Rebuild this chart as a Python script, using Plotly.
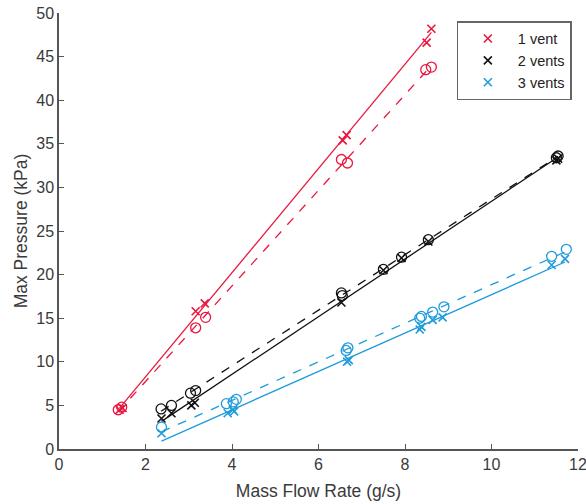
import numpy as np
import plotly.graph_objects as go

# ---- data ----
v1_x_cross = [1.40, 1.47, 3.16, 3.37, 6.56, 6.65, 8.50, 8.61]
v1_y_cross = [4.5, 4.7, 15.8, 16.7, 35.4, 36.0, 46.6, 48.2]
v1_x_circ = [1.37, 1.45, 3.16, 3.39, 6.53, 6.67, 8.48, 8.61]
v1_y_circ = [4.5, 4.8, 13.9, 15.1, 33.2, 32.8, 43.5, 43.8]

v2_x_cross = [2.37, 2.60, 3.06, 3.14, 6.53, 7.50, 7.92, 8.54, 11.50, 11.54]
v2_y_cross = [3.5, 4.1, 5.0, 5.3, 16.8, 20.5, 21.9, 23.8, 33.1, 33.3]
v2_x_circ = [2.36, 2.60, 3.04, 3.16, 6.53, 6.55, 7.50, 7.92, 8.54, 11.50, 11.54]
v2_y_circ = [4.6, 5.0, 6.4, 6.7, 17.9, 17.6, 20.6, 22.0, 24.0, 33.4, 33.6]

v3_x_cross = [2.37, 3.90, 4.02, 4.05, 6.66, 6.70, 8.34, 8.38, 8.64, 8.87, 11.39, 11.70]
v3_y_cross = [1.8, 4.1, 4.5, 4.3, 10.0, 10.2, 13.7, 14.0, 14.8, 15.1, 21.1, 21.8]
v3_x_circ = [2.37, 3.87, 4.03, 4.10, 6.64, 6.68, 8.34, 8.38, 8.64, 8.90, 11.39, 11.73]
v3_y_circ = [2.5, 5.2, 5.4, 5.7, 11.3, 11.6, 15.0, 15.2, 15.7, 16.3, 22.1, 22.9]

series = [
    ("1 vent", "#E8173E", v1_x_cross, v1_y_cross, v1_x_circ, v1_y_circ),
    ("2 vents", "#111111", v2_x_cross, v2_y_cross, v2_x_circ, v2_y_circ),
    ("3 vents", "#1E9BDC", v3_x_cross, v3_y_cross, v3_x_circ, v3_y_circ),
]

x_ticks = [0, 2, 4, 6, 8, 10, 12]
y_ticks = [0, 5, 10, 15, 20, 25, 30, 35, 40, 45, 50]

FONT = "Liberation Sans, Arial"

fig = go.Figure()

for name, color, xc, yc, xo, yo in series:
    # least-squares fit lines (solid: crosses, dashed: circles)
    for xs, ys, dash in ((xc, yc, "solid"), (xo, yo, "dash")):
        p = np.polyfit(xs, ys, 1)
        xl = np.array([min(xs), max(xs)])
        fig.add_trace(go.Scatter(x=xl, y=np.polyval(p, xl), mode="lines",
                                 line=dict(color=color, width=1.3, dash=dash),
                                 showlegend=False, hoverinfo="skip"))
    fig.add_trace(go.Scatter(x=xo, y=yo, mode="markers", showlegend=False,
                             marker=dict(symbol="circle-open", size=10, color=color,
                                         line=dict(width=1.3, color=color))))
    fig.add_trace(go.Scatter(x=xc, y=yc, mode="markers", name=name,
                             marker=dict(symbol="x-thin-open", size=8, color=color,
                                         line=dict(width=1.6, color=color))))

axis_common = dict(showgrid=False, zeroline=False, showline=True, linecolor="#555555",
                   linewidth=1.5, ticks="inside", ticklen=5, tickcolor="#555555",
                   tickfont=dict(family=FONT, size=16, color="#3a3a3a"),
                   mirror=False, automargin=False)

fig.update_xaxes(range=[0, 12], tickvals=x_ticks, ticklabeloverflow="allow",
                 title=dict(text="Mass Flow Rate (g/s)", standoff=13,
                            font=dict(family=FONT, size=17.5, color="#3a3a3a")),
                 **axis_common)
fig.update_yaxes(range=[0, 50], tickvals=y_ticks,
                 title=dict(text="Max Pressure (kPa)", standoff=4,
                            font=dict(family=FONT, size=17.5, color="#3a3a3a")),
                 **axis_common)

fig.update_layout(
    width=586, height=504,
    margin=dict(l=59, r=8, t=13, b=55),
    plot_bgcolor="white", paper_bgcolor="white",
    legend=dict(x=0.766, y=0.981, xanchor="left", yanchor="top",
                bordercolor="#666666", borderwidth=1.3, bgcolor="white",
                font=dict(family=FONT, size=14.5, color="#222222"),
                itemwidth=50, tracegroupgap=0),
)

fig.write_html("out.html")
